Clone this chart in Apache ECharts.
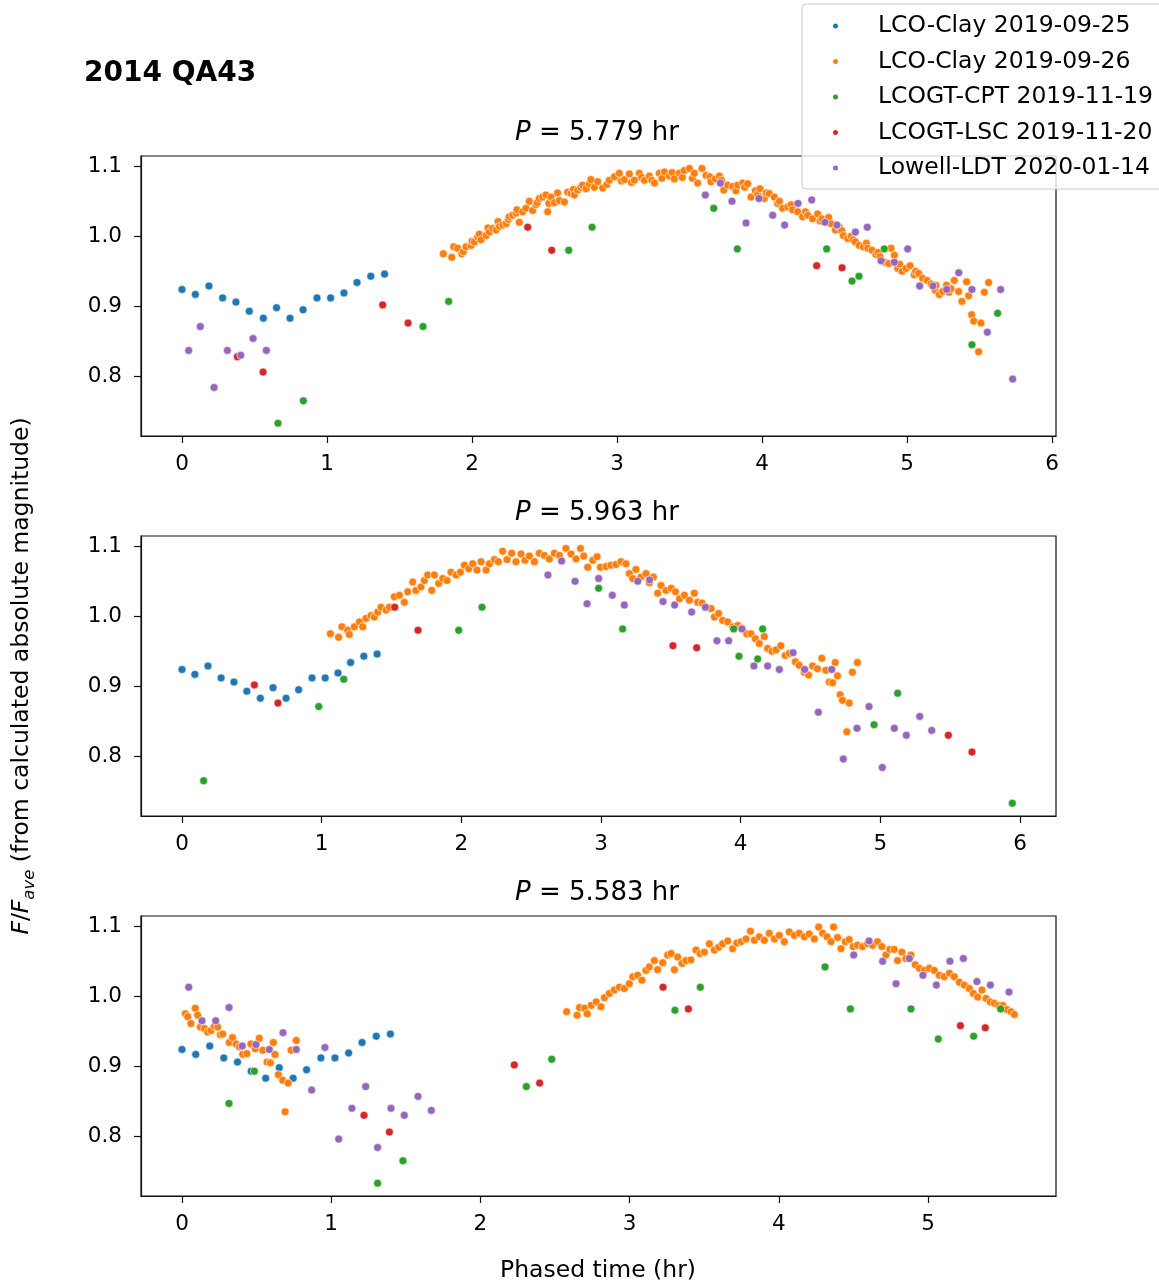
<!DOCTYPE html>
<html><head><meta charset="utf-8">
<script src="https://cdn.jsdelivr.net/npm/echarts@6/dist/echarts.min.js"></script>
<style>html,body{margin:0;padding:0;background:#fff}#c{width:1159px;height:1283px}</style>
</head><body><div id="c"></div>
<script>
// ---------- labels ----------
const seriesNames = ['LCO-Clay 2019-09-25','LCO-Clay 2019-09-26','LCOGT-CPT 2019-11-19','LCOGT-LSC 2019-11-20','Lowell-LDT 2020-01-14'];
const seriesColors = ['#1f77b4','#ff7f0e','#2ca02c','#d62728','#9467bd'];
const periods = ['5.779','5.963','5.583'];
const figTitle = '2014 QA43';
const xLabel = 'Phased time (hr)';
const xTicks1 = [0,1,2,3,4,5,6];
const xTicks2 = [0,1,2,3,4,5,6];
const xTicks3 = [0,1,2,3,4,5];
const yTicks = [0.8,0.9,1.0,1.1];

// ---------- data: [phased time (hr), F/Fave] ----------
// reference night, same in all three panels
const clay25 = [[0,0.924],[0.092,0.917],[0.186,0.929],[0.280,0.912],[0.372,0.906],[0.464,0.893],[0.561,0.883],[0.652,0.898],[0.745,0.883],[0.835,0.895],[0.931,0.912],[1.025,0.912],[1.117,0.919],[1.207,0.934],[1.302,0.943],[1.397,0.946]];

const clay26_p1 = [[1.802,0.975],[1.860,0.970],[1.874,0.985],[1.901,0.983],[1.929,0.975],[1.940,0.978],[1.959,0.985],[1.993,0.987],[2.000,0.993],[2.016,0.992],[2.039,0.999],[2.050,1.003],[2.062,0.995],[2.097,1.001],[2.110,1.012],[2.120,1.006],[2.143,1.011],[2.166,1.009],[2.180,1.021],[2.189,1.014],[2.212,1.016],[2.235,1.018],[2.250,1.024],[2.257,1.028],[2.280,1.030],[2.303,1.033],[2.310,1.038],[2.326,1.020],[2.349,1.035],[2.372,1.040],[2.395,1.050],[2.418,1.037],[2.441,1.045],[2.450,1.048],[2.464,1.054],[2.487,1.056],[2.510,1.059],[2.522,1.035],[2.530,1.047],[2.545,1.056],[2.568,1.048],[2.590,1.062],[2.602,1.051],[2.637,1.049],[2.660,1.063],[2.683,1.061],[2.700,1.067],[2.706,1.059],[2.729,1.066],[2.750,1.070],[2.763,1.073],[2.786,1.068],[2.809,1.075],[2.820,1.081],[2.844,1.070],[2.867,1.078],
[2.901,1.069],[2.930,1.074],[2.947,1.080],[2.982,1.085],[3.016,1.090],[3.030,1.079],[3.051,1.081],[3.085,1.089],[3.100,1.077],[3.120,1.080],[3.154,1.090],[3.170,1.084],[3.189,1.080],[3.223,1.086],[3.240,1.080],[3.258,1.076],[3.292,1.090],[3.310,1.083],[3.327,1.092],[3.361,1.086],[3.380,1.091],[3.395,1.082],[3.430,1.090],[3.450,1.084],[3.464,1.094],[3.499,1.097],[3.520,1.083],[3.533,1.090],[3.556,1.076],[3.586,1.097],[3.614,1.087],[3.640,1.085],[3.648,1.078],[3.678,1.082],[3.706,1.086],[3.720,1.080],[3.736,1.066],[3.763,1.073],[3.798,1.071],[3.820,1.065],[3.832,1.073],[3.867,1.076],[3.880,1.070],[3.901,1.075],[3.924,1.056],[3.954,1.065],[3.970,1.060],[3.986,1.068],[4.016,1.054],[4.030,1.062],[4.050,1.061],[4.085,1.056],[4.108,1.047],[4.120,1.050],[4.142,1.040],[4.177,1.042],[4.200,1.045],[4.211,1.038],[4.246,1.035],[4.280,1.028],[4.300,1.035],[4.315,1.030],[4.349,1.025],[4.384,1.032],[4.400,1.022],[4.414,1.025],[4.441,1.020],[4.460,1.027],[4.476,1.018],[4.506,1.009],[4.533,1.013],[4.550,1.008],[4.561,1.001],[4.591,0.997],[4.614,1.000],[4.630,0.995],[4.644,0.992],[4.671,0.987],[4.699,0.985],[4.720,0.990],[4.729,0.983],[4.759,0.980],[4.786,0.974],[4.800,0.977],[4.814,0.971],[4.844,0.963],[4.874,0.961],[4.890,0.983],[4.913,0.973],[4.936,0.954],[4.950,0.960],[4.966,0.950],[4.993,0.954],[5.021,0.958],[5.050,0.945],[5.060,0.950],[5.080,0.947],[5.108,0.940],[5.138,0.937],[5.166,0.932],[5.195,0.923],[5.200,0.930],[5.223,0.917],[5.246,0.921],[5.273,0.930],[5.290,0.920],[5.303,0.925],[5.326,0.937],[5.356,0.921],[5.379,0.907],[5.411,0.935],[5.425,0.915],[5.446,0.888],[5.460,0.879],[5.494,0.835],[5.510,0.876],[5.533,0.920],[5.563,0.934]];

const clay26_p2 = [[1.062,0.975],[1.121,0.970],[1.145,0.985],[1.186,0.980],[1.198,0.974],[1.234,0.985],[1.270,0.992],[1.294,0.985],[1.317,0.997],[1.353,1.001],[1.377,0.999],[1.401,1.006],[1.425,1.013],[1.461,1.009],[1.485,1.013],[1.520,1.028],[1.556,1.030],[1.592,1.020],[1.616,1.035],[1.652,1.049],[1.675,1.037],[1.711,1.042],[1.735,1.051],[1.759,1.059],[1.788,1.037],[1.807,1.059],[1.838,1.047],[1.867,1.054],[1.898,1.051],[1.926,1.063],[1.962,1.059],[1.993,1.063],[2.022,1.073],[2.053,1.068],[2.081,1.075],[2.112,1.066],[2.141,1.078],[2.177,1.066],[2.201,1.075],[2.237,1.081],[2.265,1.078],[2.296,1.093],[2.327,1.081],[2.360,1.090],[2.391,1.078],[2.427,1.089],[2.456,1.080],[2.487,1.086],[2.523,1.078],[2.558,1.090],[2.594,1.087],[2.630,1.082],[2.666,1.090],[2.702,1.087],[2.749,1.097],[2.785,1.089],[2.821,1.082],[2.853,1.097],[2.877,1.086],[2.905,1.070],[2.941,1.080],[2.972,1.085],[2.996,1.070],
[3.036,1.071],[3.071,1.073],[3.107,1.074],[3.143,1.078],[3.179,1.075],[3.203,1.061],[3.227,1.054],[3.250,1.067],[3.286,1.056],[3.322,1.061],[3.346,1.048],[3.375,1.056],[3.406,1.033],[3.430,1.044],[3.466,1.037],[3.502,1.040],[3.533,1.035],[3.562,1.025],[3.597,1.030],[3.633,1.023],[3.668,1.033],[3.692,1.020],[3.723,1.019],[3.752,1.013],[3.788,1.011],[3.812,0.999],[3.842,1.004],[3.871,0.994],[3.907,0.992],[3.943,0.985],[3.979,0.987],[4.010,0.983],[4.043,0.975],[4.074,0.975],[4.105,0.968],[4.133,0.961],[4.169,0.971],[4.193,0.954],[4.224,0.950],[4.253,0.952],[4.288,0.958],[4.319,0.944],[4.348,0.947],[4.391,0.935],[4.419,0.930],[4.455,0.920],[4.486,0.916],[4.515,0.929],[4.550,0.925],[4.581,0.940],[4.610,0.923],[4.634,0.906],[4.658,0.905],[4.677,0.934],[4.693,0.915],[4.712,0.888],[4.729,0.880],[4.760,0.835],[4.777,0.876],[4.800,0.920],[4.836,0.934]];

const clay26_p3 = [[0.022,0.975],[0.038,0.971],[0.060,0.961],[0.089,0.983],[0.105,0.973],[0.123,0.956],[0.150,0.954],[0.172,0.949],[0.194,0.951],[0.217,0.957],[0.239,0.956],[0.257,0.945],[0.273,0.946],[0.317,0.934],[0.339,0.941],[0.362,0.932],[0.384,0.928],[0.407,0.917],[0.435,0.918],[0.462,0.932],[0.491,0.925],[0.518,0.940],[0.541,0.923],[0.570,0.906],[0.592,0.905],[0.612,0.934],[0.623,0.917],[0.646,0.888],[0.675,0.880],[0.691,0.835],[0.711,0.876],[0.731,0.923],[0.766,0.937],
[2.578,0.978],[2.648,0.973],[2.664,0.984],[2.698,0.983],[2.716,0.975],[2.743,0.987],[2.776,0.992],[2.808,0.985],[2.831,0.998],[2.864,1.004],[2.898,1.009],[2.931,1.013],[2.965,1.011],[2.998,1.018],[3.021,1.028],[3.054,1.030],[3.083,1.023],[3.110,1.037],[3.132,1.042],[3.166,1.051],[3.188,1.038],[3.222,1.048],[3.255,1.059],[3.278,1.061],[3.300,1.038],[3.322,1.056],[3.351,1.047],[3.378,1.051],[3.411,1.052],[3.445,1.066],[3.472,1.061],[3.501,1.063],[3.535,1.075],[3.568,1.066],[3.597,1.070],[3.624,1.075],[3.658,1.079],[3.691,1.068],[3.718,1.076],[3.747,1.078],[3.780,1.082],[3.810,1.093],[3.836,1.080],[3.869,1.085],[3.903,1.080],[3.936,1.090],[3.970,1.082],[4.003,1.087],[4.037,1.078],[4.070,1.092],[4.104,1.087],[4.137,1.090],[4.171,1.085],[4.204,1.089],[4.238,1.082],[4.267,1.099],[4.294,1.090],[4.323,1.085],[4.350,1.078],[4.367,1.099],[4.394,1.084],[4.417,1.068],[4.446,1.078],[4.472,1.081],[4.499,1.071],[4.528,1.073],[4.561,1.071],[4.595,1.075],[4.628,1.073],[4.662,1.078],[4.691,1.071],[4.718,1.059],[4.744,1.067],[4.773,1.067],[4.796,1.051],[4.825,1.063],[4.852,1.054],[4.886,1.059],[4.915,1.045],[4.942,1.040],[4.975,1.037],[5.009,1.040],[5.042,1.037],[5.076,1.030],[5.109,1.028],[5.143,1.033],[5.176,1.028],[5.210,1.020],[5.243,1.016],[5.277,1.011],[5.304,1.004],[5.333,0.999],[5.362,1.009],[5.389,0.997],[5.418,0.992],[5.445,0.990],[5.474,0.987],[5.501,0.987],[5.528,0.981],[5.557,0.978],[5.579,0.974]];

const cpt_p1 = [[0.662,0.733],[0.837,0.765],[1.662,0.871],[1.839,0.907],[2.667,0.980],[2.828,1.013],[3.667,1.040],[3.830,0.982],[4.446,0.982],[4.621,0.936],[4.669,0.943],[4.843,0.982],[5.448,0.845],[5.625,0.890]];
const cpt_p2 = [[0.155,0.765],[0.979,0.871],[1.158,0.910],[1.981,0.980],[2.148,1.013],[2.983,1.040],[3.155,0.982],[3.950,0.982],[3.988,0.943],[4.122,0.939],[4.157,0.982],[4.955,0.845],[5.124,0.890],[5.945,0.733]];
const cpt_p3 = [[0.315,0.847],[0.485,0.893],[1.311,0.733],[1.481,0.765],[2.308,0.871],[2.478,0.910],[3.304,0.980],[3.474,1.013],[4.310,1.042],[4.480,0.982],[4.886,0.982],[5.069,0.939],[5.306,0.943],[5.487,0.982]];

const lsc_p1 = [[0.382,0.828],[0.559,0.806],[1.384,0.902],[1.559,0.876],[2.384,1.013],[2.550,0.980],[4.377,0.958],[4.552,0.955]];
const lsc_p2 = [[0.518,0.902],[0.687,0.876],[1.523,1.013],[1.690,0.980],[3.515,0.958],[3.685,0.955],[5.487,0.830],[5.656,0.806]];
const lsc_p3 = [[1.220,0.830],[1.390,0.806],[2.227,0.902],[2.397,0.876],[3.224,1.013],[3.394,0.982],[5.217,0.958],[5.384,0.955]];

const ldt_p1 = [[0.046,0.837],[0.126,0.871],[0.221,0.784],[0.313,0.837],[0.405,0.830],[0.490,0.854],[0.582,0.837],[3.609,1.059],[3.713,1.076],[3.793,1.050],[3.890,1.019],[3.979,1.054],[4.074,1.030],[4.156,1.016],[4.248,1.047],[4.343,1.052],[4.434,1.020],[4.517,1.016],[4.644,1.006],[4.726,1.013],[4.821,0.965],[4.913,0.963],[5.005,0.982],[5.087,0.929],[5.179,0.929],[5.274,0.924],[5.357,0.948],[5.448,0.924],[5.554,0.863],[5.646,0.924],[5.729,0.796]];
const ldt_p2 = [[2.620,1.059],[2.718,1.079],[2.814,1.050],[2.900,1.018],[2.983,1.054],[3.081,1.030],[3.167,1.016],[3.263,1.050],[3.348,1.052],[3.444,1.021],[3.527,1.016],[3.649,1.006],[3.747,1.013],[3.830,0.965],[3.914,0.965],[4.009,0.982],[4.095,0.929],[4.193,0.929],[4.277,0.924],[4.375,0.948],[4.458,0.924],[4.556,0.863],[4.652,0.924],[4.735,0.796],[4.833,0.840],[4.919,0.871],[5.014,0.784],[5.100,0.840],[5.186,0.830],[5.282,0.857],[5.368,0.837]];
const ldt_p3 = [[0.045,1.013],[0.134,0.965],[0.226,0.965],[0.315,0.984],[0.404,0.929],[0.496,0.931],[0.585,0.924],[0.677,0.948],[0.766,0.924],[0.869,0.866],[0.958,0.927],[1.050,0.796],[1.139,0.840],[1.231,0.871],[1.311,0.784],[1.401,0.840],[1.490,0.830],[1.582,0.857],[1.671,0.837],[4.502,1.059],[4.605,1.079],[4.696,1.050],[4.786,1.018],[4.875,1.054],[4.966,1.030],[5.056,1.016],[5.147,1.050],[5.237,1.054],[5.328,1.021],[5.418,1.016],[5.543,1.006]];

// ---------- layout ----------
const FONT = 'DejaVu Sans';
const panelData = [
  [clay25, clay26_p1, cpt_p1, lsc_p1, ldt_p1],
  [clay25, clay26_p2, cpt_p2, lsc_p2, ldt_p2],
  [clay25, clay26_p3, cpt_p3, lsc_p3, ldt_p3]
];
const panelTicks = [xTicks1, xTicks2, xTicks3];
const xRanges = [[-0.2828, 6.0276], [-0.2936, 6.2577], [-0.2748, 5.8579]];
const yRange = [0.7147, 1.1147];
const tops = [156, 536, 916];

const grids = [], xAxes = [], yAxes = [], series = [], graphics = [];
for (let p = 0; p < 3; p++) {
  grids.push({left: 141, top: tops[p], width: 915, height: 280, show: true, borderColor: '#111', borderWidth: 1.2, backgroundColor: 'transparent', containLabel: false});
  xAxes.push({type: 'value', gridIndex: p, min: xRanges[p][0], max: xRanges[p][1], position: 'bottom',
    axisLine: {show: true, onZero: false, lineStyle: {color: '#111', width: 1.2}}, splitLine: {show: false},
    axisTick: {show: true, inside: false, length: 7, lineStyle: {color: '#111', width: 1.2}, customValues: panelTicks[p]},
    axisLabel: {customValues: panelTicks[p], margin: 17, fontSize: 21.5, fontFamily: FONT, color: '#000', formatter: v => String(Math.round(v))}});
  yAxes.push({type: 'value', gridIndex: p, min: yRange[0], max: yRange[1], position: 'left',
    axisLine: {show: true, onZero: false, lineStyle: {color: '#111', width: 1.2}}, splitLine: {show: false},
    axisTick: {show: true, inside: false, length: 7, lineStyle: {color: '#111', width: 1.2}, customValues: yTicks},
    axisLabel: {customValues: yTicks, margin: 19, fontSize: 21.5, fontFamily: FONT, color: '#000', formatter: v => v.toFixed(1)}});
  panelData[p].forEach((d, k) => {
    series.push({type: 'scatter', name: seriesNames[k], xAxisIndex: p, yAxisIndex: p, data: d,
      symbol: 'circle', symbolSize: 8,
      itemStyle: {color: seriesColors[k], borderColor: '#ffffff', borderWidth: 0.6, opacity: 1},
      emphasis: {disabled: true}, animation: false});
  });
  graphics.push({type: 'text', x: 597, y: 133 + 380 * p,
    style: {text: '{i|P} = ' + periods[p] + ' hr', align: 'center', verticalAlign: 'middle',
      fontSize: 26, fontFamily: FONT, fill: '#000',
      rich: {i: {fontStyle: 'italic', fontSize: 26, fontFamily: FONT, fill: '#000'}}}});
}
graphics.push({type: 'text', x: 84, y: 74,
  style: {text: figTitle, align: 'left', verticalAlign: 'middle', fontSize: 28, fontWeight: 'bold', fontFamily: FONT, fill: '#000'}});
graphics.push({type: 'text', x: 598, y: 1271,
  style: {text: xLabel, align: 'center', verticalAlign: 'middle', fontSize: 23.5, fontFamily: FONT, fill: '#000'}});
graphics.push({type: 'text', x: 22, y: 676, rotation: Math.PI / 2,
  style: {text: '{i|F}{n|/}{i|F}{s|ave}{n| (from calculated absolute magnitude)}', align: 'center', verticalAlign: 'middle',
    fontSize: 23.5, fontFamily: FONT, fill: '#000',
    rich: {
      i: {fontStyle: 'italic', fontSize: 23.5, fontFamily: FONT, fill: '#000', lineHeight: 32},
      n: {fontSize: 23.5, fontFamily: FONT, fill: '#000', lineHeight: 32},
      s: {fontStyle: 'italic', fontSize: 16.5, fontFamily: FONT, fill: '#000', verticalAlign: 'bottom', lineHeight: 32}
    }}});

const chart = echarts.init(document.getElementById('c'), null, {renderer: 'canvas'});
chart.setOption({
  animation: false,
  backgroundColor: '#ffffff',
  grid: grids, xAxis: xAxes, yAxis: yAxes, series: series,
  legend: {data: seriesNames, orient: 'vertical', left: 802, top: 4,
    padding: [8, 12, 7, 29], itemGap: 7.5, itemWidth: 7, itemHeight: 7, icon: 'circle',
    backgroundColor: 'rgba(255,255,255,0.8)', borderColor: '#cccccc', borderWidth: 1, borderRadius: 4,
    textStyle: {fontSize: 23.5, fontFamily: FONT, color: '#000', lineHeight: 28, padding: [0, 0, 0, 34]}},
  graphic: graphics
});
</script>
</body></html>
